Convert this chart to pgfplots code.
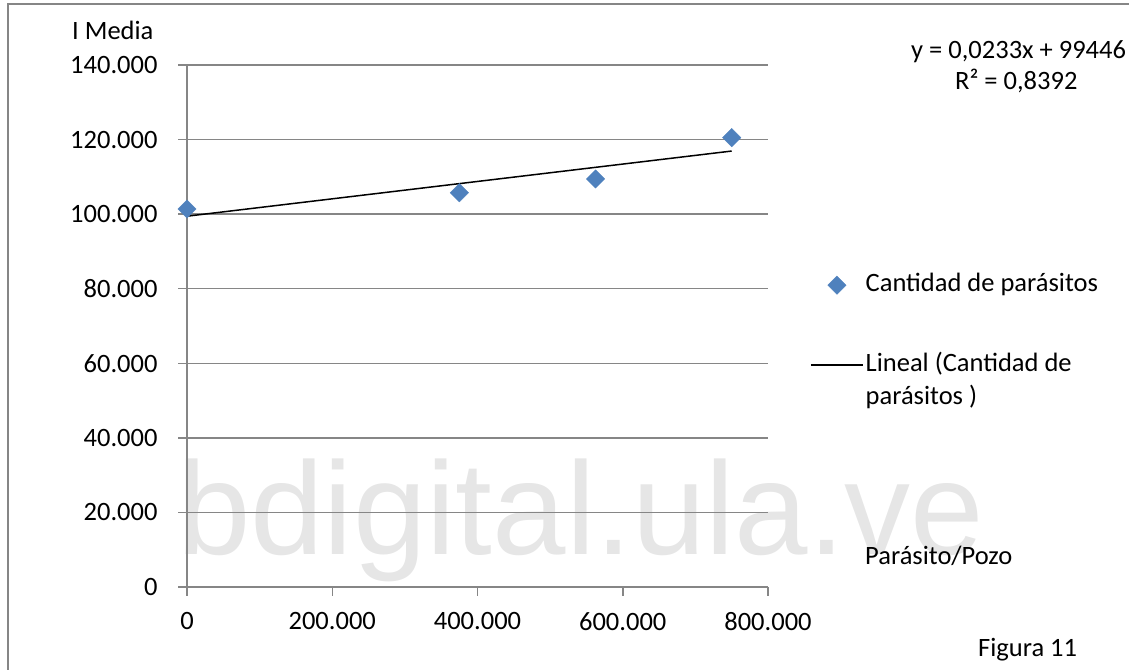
\documentclass[border=0pt]{standalone}
\usepackage{fontspec}
\setmainfont{Carlito}
\newfontfamily\wmfont{Liberation Sans}
\usepackage{pgfplots}
\pgfplotsset{compat=1.18}
\definecolor{gridgray}{HTML}{868686}
\definecolor{excelblue}{HTML}{4F81BD}
\definecolor{wm}{HTML}{E6E6E6}
\newcommand\fs{\fontsize{26.5bp}{32bp}\selectfont}
\pgfplotsset{
  markleg/.style={legend image code/.code={\draw[mark repeat=2,mark phase=2,##1] plot coordinates {(0bp,0bp)(26bp,0bp)(52bp,0bp)};}},
  lineleg/.style={legend image code/.code={\draw[##1] (0bp,0bp) -- (52bp,0bp);}},
}
\begin{document}
\begin{tikzpicture}
\useasboundingbox (0bp,0bp) rectangle (1129bp,670bp);
\draw[gridgray, line width=2bp] (8bp,0bp) -- (8bp,666bp) -- (1129bp,666bp);
\node[text=wm, font=\wmfont\fontsize{132bp}{150bp}\selectfont, anchor=base west, inner sep=0pt] at (177bp,115bp) {bdigital.ula.ve};
\begin{axis}[
  at={(187bp,83bp)}, anchor=south west,
  scale only axis, width=581bp, height=522bp,
  xmin=0, xmax=800000, ymin=0, ymax=140000,
  axis x line*=bottom, axis y line*=left,
  axis line style={gridgray, line width=1.5bp},
  xtick={0,200000,400000,600000,800000},
  xticklabels={0,200.000,400.000,600.000,800.000},
  ytick={0,20000,40000,60000,80000,100000,120000,140000},
  yticklabels={0,20.000,40.000,60.000,80.000,100.000,120.000,140.000},
  scaled ticks=false,
  tick align=outside, major tick length=9bp,
  tick style={gridgray, line width=1.5bp},
  ymajorgrids, major grid style={gridgray, line width=1.5bp},
  ticklabel style={font=\fs, text=black},
  yticklabel style={xshift=-17bp},
  xticklabel style={yshift=-13bp},
  legend style={draw=none, fill=none, inner sep=0pt, at={(1.0723,0.7002)}, anchor=north west,
    font=\fs, row sep=0pt, column sep=2bp,
    nodes={inner sep=0pt, text depth=, text height=}, cells={anchor=west}},
]
\addplot[only marks, mark=square*, mark size=6.5bp,
  mark options={rotate=45, fill=excelblue, draw=excelblue}, markleg]
  coordinates {(0,101380)(375000,105750)(562500,109430)(750000,120510)};
\addlegendentry{Cantidad de parásitos\rule[-57.3bp]{0pt}{127bp}}
\addplot[black, line width=1.5bp, lineleg]
  coordinates {(0,99446)(750000,116921)};
\addlegendentry{Lineal (Cantidad de\rule[-10.3bp]{0pt}{33bp}}
\addlegendimage{empty legend}
\addlegendentry{parásitos )\rule[-10.3bp]{0pt}{33bp}}
\end{axis}
\node[font=\fs, anchor=base west, inner sep=0pt] at (72bp,630.7bp) {I Media};
\node[font=\fs, anchor=base west, inner sep=0pt] at (911bp,611.6bp) {y = 0,0233x + 99446};
\node[font=\fs, anchor=base west, inner sep=0pt] at (955bp,580.6bp) {R² = 0,8392};
\node[font=\fs, anchor=base west, inner sep=0pt] at (865bp,105bp) {Parásito/Pozo};
\node[font=\fs, anchor=base west, inner sep=0pt] at (978bp,14bp) {Figura 11};
\end{tikzpicture}
\end{document}
